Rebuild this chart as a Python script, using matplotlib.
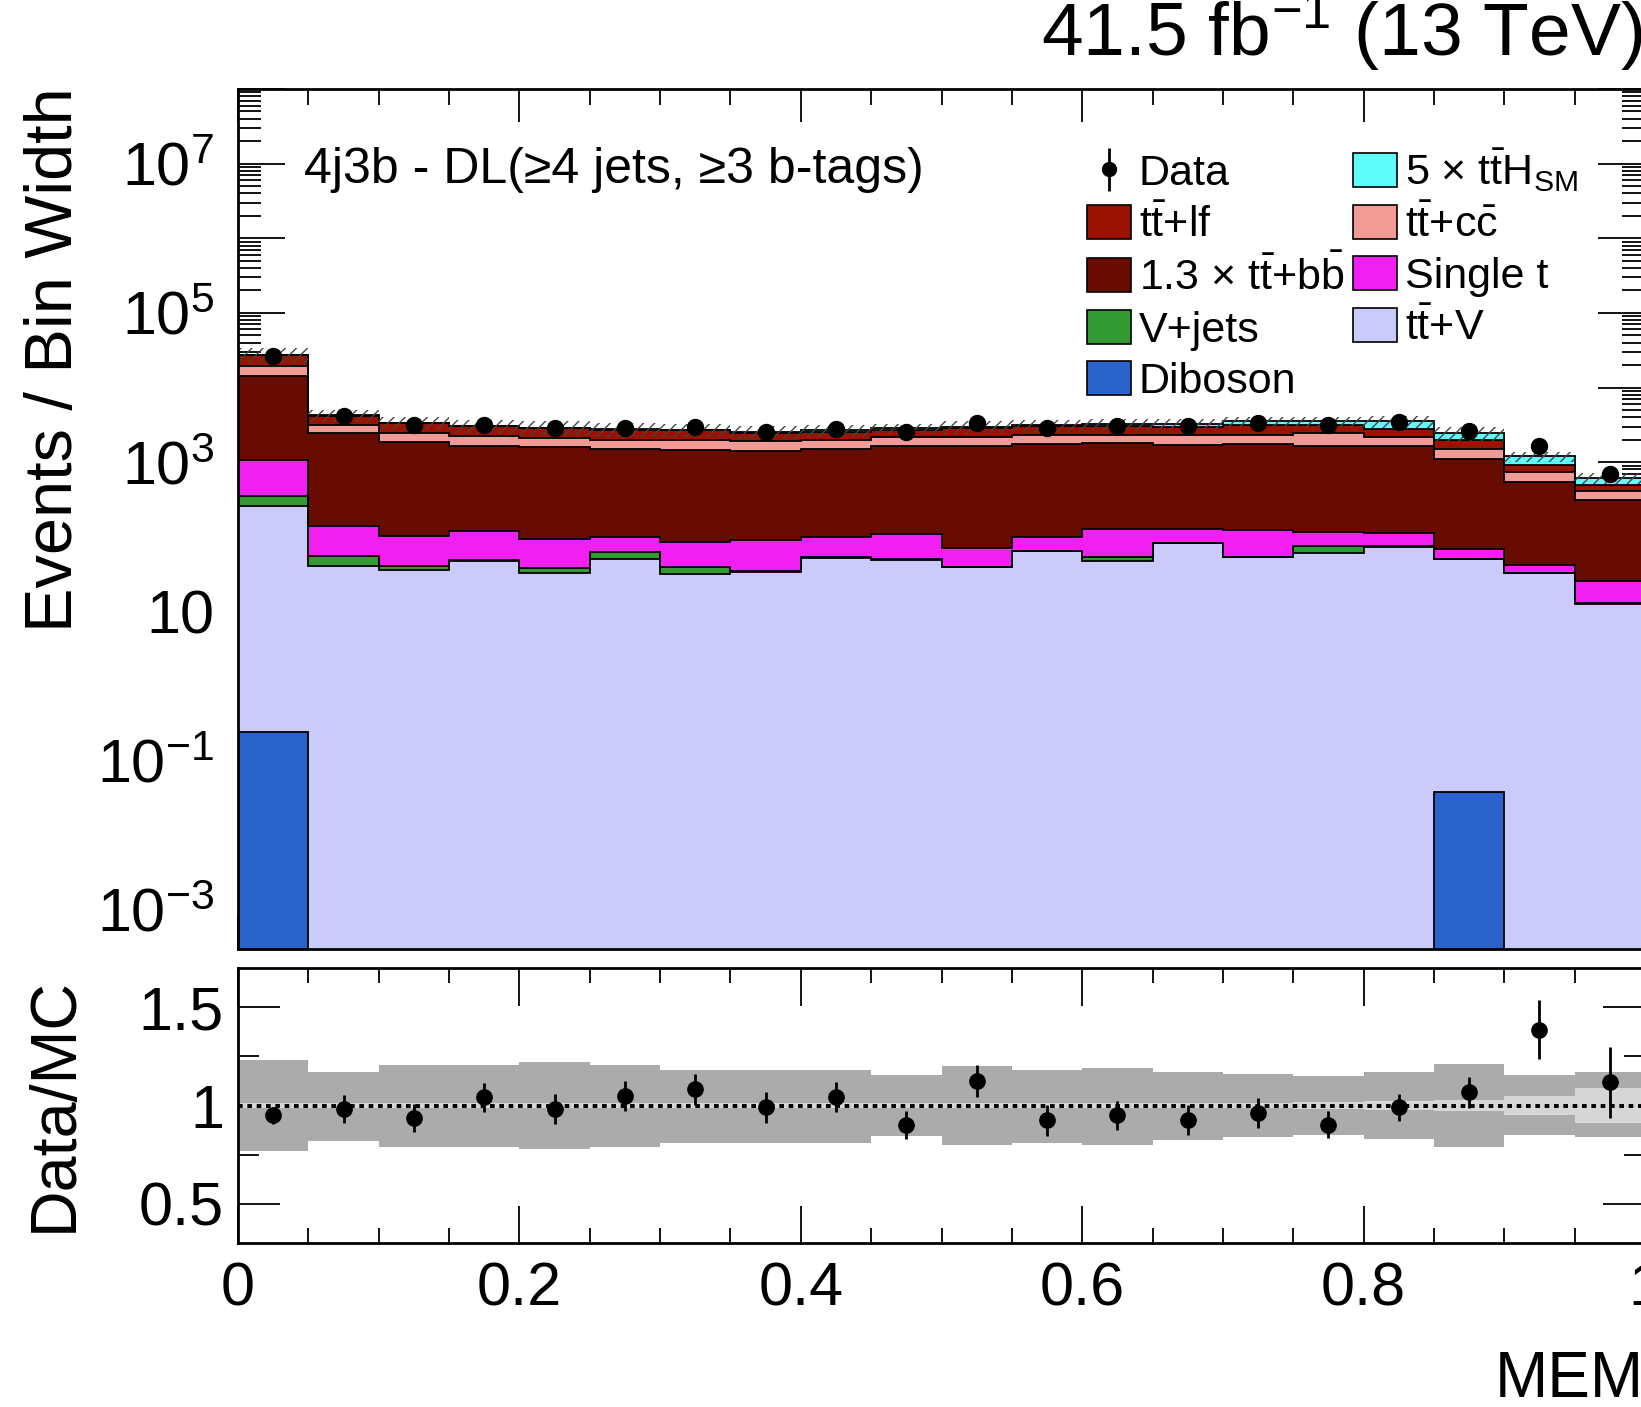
import numpy as np
import matplotlib
matplotlib.use("Agg")
import matplotlib.pyplot as plt
from matplotlib.patches import Rectangle
from matplotlib.ticker import LogLocator, FuncFormatter, MultipleLocator, FixedLocator, NullFormatter

plt.rcParams['font.family'] = ['Liberation Sans', 'DejaVu Sans']
plt.rcParams['mathtext.fontset'] = 'custom'
plt.rcParams['mathtext.rm'] = 'Liberation Sans'
plt.rcParams['mathtext.it'] = 'Liberation Sans'
plt.rcParams['mathtext.sf'] = 'Liberation Sans'
plt.rcParams['mathtext.bf'] = 'Liberation Sans:bold'
plt.rcParams['hatch.linewidth'] = 1.0

# ---- MEM discriminant, 20 bins in [0, 1]; contents are events / bin width ----
bin_edges = np.linspace(0.0, 1.0, 21)

diboson  = [0.24, 0, 0, 0, 0, 0, 0, 0, 0, 0, 0, 0, 0, 0, 0, 0, 0, 0.038, 0, 0]
ttv      = [255, 41, 35.5, 47, 32.7, 50, 32, 33.3, 52, 49, 39.4, 64, 48, 82, 53.5, 60.5, 74, 50, 32.7, 12.7]
vjets    = [93, 13.7, 5.4, 1.5, 5.4, 13.3, 7.4, 1.2, 1.5, 0.8, 0.5, 0.5, 6.3, 0.5, 0.5, 15.4, 0.5, 0.5, 0.3, 0.2]
single_t = [728, 83, 62, 70, 55, 35, 45, 55, 45, 60, 31, 35, 72, 44, 70, 41, 37, 18, 9.3, 12.4]
ttbb     = [13280, 2311, 1734, 1542, 1499, 1397, 1382, 1304, 1397, 1516, 1555, 1663, 1672, 1583, 1638, 1543, 1514, 1031, 493, 288]
ttcc     = [4790, 721, 612, 548, 507, 499, 488, 499, 499, 542, 542, 566, 529, 618, 566, 789, 582, 397, 193, 93]
ttlf     = [8273, 1008, 885, 798, 759, 721, 707, 557, 581, 548, 690, 678, 741, 678, 842, 721, 565, 458, 195, 92]
tth      = [200, 50, 45, 45, 45, 50, 50, 100, 110, 120, 130, 140, 160, 250, 338, 338, 735, 495, 271, 114]

data     = [26235, 4156, 3166, 3179, 2854, 2896, 2936, 2524, 2799, 2552, 3362, 2910, 3068, 3012, 3378, 3168, 3473, 2613, 1656, 684]
ratio_err = [0.045, 0.07, 0.07, 0.075, 0.075, 0.075, 0.08, 0.08, 0.075, 0.07, 0.08, 0.08, 0.075, 0.075, 0.075, 0.07, 0.07, 0.08, 0.15, 0.18]

# relative uncertainty of the prediction (total and statistical only)
unc_up   = [0.23, 0.17, 0.205, 0.205, 0.22, 0.205, 0.18, 0.18, 0.18, 0.155, 0.20, 0.18, 0.19, 0.17, 0.16, 0.15, 0.17, 0.21, 0.155, 0.17]
unc_down = [0.23, 0.18, 0.21, 0.21, 0.22, 0.21, 0.19, 0.19, 0.19, 0.155, 0.20, 0.19, 0.20, 0.175, 0.16, 0.15, 0.17, 0.21, 0.15, 0.16]
unc_stat = [0.015, 0.015, 0.015, 0.015, 0.015, 0.015, 0.015, 0.015, 0.015, 0.015, 0.015, 0.015, 0.015, 0.015, 0.015, 0.02, 0.025, 0.03, 0.05, 0.09]

x_ticks = [0, 0.2, 0.4, 0.6, 0.8, 1.0]
x_ticklabels = ["0", "0.2", "0.4", "0.6", "0.8", "1"]

# stacking order: bottom -> top
processes = [
    ("Diboson", diboson, "#2a63cc"),
    (r"$\mathrm{t\bar{t}}$+V", ttv, "#cbcbfb"),
    ("V+jets", vjets, "#339933"),
    ("Single t", single_t, "#f21ff2"),
    (r"1.3 × $\mathrm{t\bar{t}}$+$\mathrm{b\bar{b}}$", ttbb, "#680b00"),
    (r"$\mathrm{t\bar{t}}$+$\mathrm{c\bar{c}}$", ttcc, "#f29a96"),
    (r"$\mathrm{t\bar{t}}$+lf", ttlf, "#9c1200"),
    (r"5 × $\mathrm{t\bar{t}H_{SM}}$", tth, "#5ffcfc"),
]

W, H = 1641, 1407
fig = plt.figure(figsize=(W / 100, H / 100), dpi=100)

def fig_rect(left, top, right, bottom):
    return [left / W, 1 - bottom / H, (right - left) / W, (bottom - top) / H]

ax = fig.add_axes(fig_rect(238, 89, 1645, 949))
rax = fig.add_axes(fig_rect(238, 968, 1645, 1243))

centers = 0.5 * (bin_edges[:-1] + bin_edges[1:])
floor = 1e-6
lower = np.full(20, floor)
tops = []
for name, vals, col in processes:
    upper = lower + np.asarray(vals, float)
    ax.stairs(upper, bin_edges, baseline=lower, fill=True, color=col, lw=0, zorder=2)
    tops.append(upper)
    lower = upper
for upper in tops:
    ax.stairs(upper, bin_edges, baseline=None, color="black", lw=1.3, zorder=3)

total = tops[-1]
up = np.asarray(unc_up)
dn = np.asarray(unc_down)
ax.stairs(total * (1 + up), bin_edges, baseline=total * (1 - dn), fill=True,
          facecolor="none", edgecolor="#444444", hatch="///", lw=0, zorder=4)

data_arr = np.asarray(data, float)
ax.plot(centers, data_arr, "o", color="black", ms=11.5, zorder=6)

ax.set_xlim(0, 1)
ax.set_ylim(3e-4, 1e8)
ax.set_yscale("log")

label_exps = {-3: r"$10^{-3}$", -1: r"$10^{-1}$", 1: "10", 3: r"$10^{3}$", 5: r"$10^{5}$", 7: r"$10^{7}$"}

def ylab(v, pos):
    e = int(round(np.log10(v)))
    return label_exps.get(e, "")

ax.yaxis.set_major_locator(LogLocator(base=10, numticks=30))
ax.yaxis.set_major_formatter(FuncFormatter(ylab))
ax.yaxis.set_minor_locator(LogLocator(base=10, subs=np.arange(2, 10), numticks=100))
ax.yaxis.set_minor_formatter(NullFormatter())
ax.xaxis.set_major_locator(FixedLocator(x_ticks))
ax.xaxis.set_minor_locator(MultipleLocator(0.05))
ax.set_xticklabels([])

ax.tick_params(axis="both", which="both", direction="in", top=True, right=True, width=1.3)
ax.tick_params(axis="y", which="major", length=34, labelsize=44, pad=17)
ax.tick_params(axis="y", which="minor", length=16.5)
ax.tick_params(axis="x", which="major", length=24)
ax.tick_params(axis="x", which="minor", length=11.5)
for s in ax.spines.values():
    s.set_linewidth(2.0)
    s.set_zorder(10)

# ---- ratio panel ----
ratio = data_arr / total
stat = np.asarray(unc_stat)
rax.stairs(1 + up, bin_edges, baseline=1 - dn, fill=True, color="#ababab", lw=0, zorder=1)
rax.stairs(1 + stat, bin_edges, baseline=1 - stat, fill=True, color="#d6d6d6", lw=0, zorder=2)
rax.axhline(1.0, color="black", ls=(0, (1.2, 1.2)), lw=2.8, zorder=3)
rax.errorbar(centers, ratio, yerr=ratio_err, fmt="o", color="black", ms=11,
             elinewidth=2, capsize=0, zorder=5)
rax.set_xlim(0, 1)
rax.set_ylim(0.3, 1.7)
rax.xaxis.set_major_locator(FixedLocator(x_ticks))
rax.set_xticklabels(x_ticklabels)
rax.xaxis.set_minor_locator(MultipleLocator(0.05))
rax.yaxis.set_major_locator(FixedLocator([0.5, 1.0, 1.5]))
rax.set_yticklabels(["0.5", "1", "1.5"])
rax.yaxis.set_minor_locator(FixedLocator([0.25, 0.75, 1.25, 1.75]))
rax.tick_params(axis="both", which="both", direction="in", top=True, right=True, width=1.3)
rax.tick_params(axis="y", which="major", length=30, labelsize=44, pad=10)
rax.tick_params(axis="y", which="minor", length=15)
rax.tick_params(axis="x", which="major", length=27, labelsize=44, pad=13)
rax.tick_params(axis="x", which="minor", length=11)
for s in rax.spines.values():
    s.set_linewidth(2.0)
    s.set_zorder(10)

# ---- texts ----
fig.text(55 / W, 1 - 87 / H, "Events / Bin Width", rotation=90, ha="center", va="top", fontsize=48)
fig.text(55 / W, 1 - 977 / H, "Data/MC", rotation=90, ha="center", va="top", fontsize=46.5)
fig.text(1644 / W, 1 - 1397 / H, "MEM", ha="right", va="baseline", fontsize=46)
fig.text(1643 / W, 1 - 56 / H, r"41.5 fb$^{-1}$ (13 TeV)", ha="right", va="baseline", fontsize=54)
fig.text(304 / W, 1 - 183 / H, "4j3b - DL(≥4 jets, ≥3 b-tags)", ha="left", va="baseline", fontsize=36)

# ---- legend ----
data_handle = ax.errorbar([np.nan], [np.nan], yerr=[1.0], fmt="o", color="black", ms=10, elinewidth=2)
by_name = {name: Rectangle((0, 0), 1, 1, facecolor=col, edgecolor="black", lw=1.2)
           for name, vals, col in processes}
order_col1 = [r"$\mathrm{t\bar{t}}$+lf", r"1.3 × $\mathrm{t\bar{t}}$+$\mathrm{b\bar{b}}$", "V+jets", "Diboson"]
order_col2 = [r"5 × $\mathrm{t\bar{t}H_{SM}}$", r"$\mathrm{t\bar{t}}$+$\mathrm{c\bar{c}}$", "Single t", r"$\mathrm{t\bar{t}}$+V"]
handles = [data_handle] + [by_name[n] for n in order_col1] + [by_name[n] for n in order_col2]
labels = ["Data"] + order_col1 + order_col2
fig.legend(handles, labels, ncol=2, loc="upper left", bbox_to_anchor=(1087 / W, 1 - 147 / H),
           frameon=False, fontsize=31, handlelength=1.02, handleheight=0.84,
           handletextpad=0.18, columnspacing=0.2, labelspacing=0.245, borderpad=0, borderaxespad=0)

fig.savefig("out.png", dpi=100)
